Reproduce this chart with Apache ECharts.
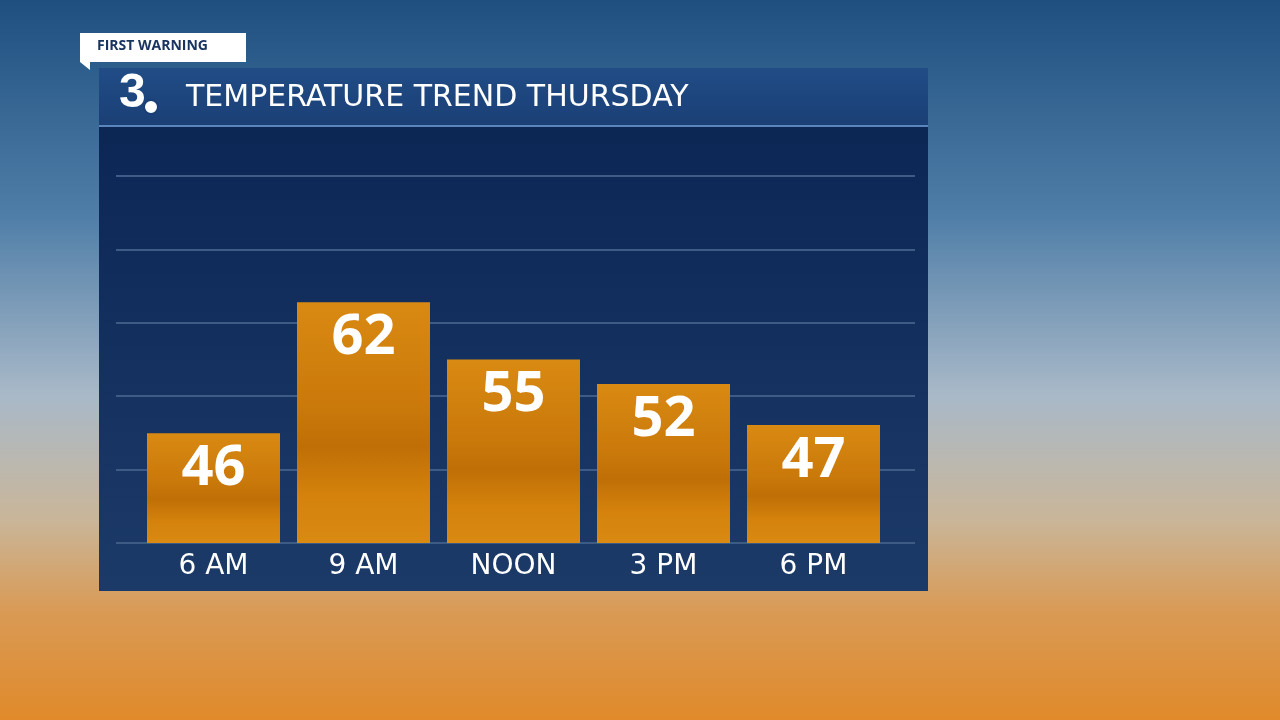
<!DOCTYPE html>
<html><head><meta charset="utf-8">
<script src="https://cdn.jsdelivr.net/npm/echarts@6/dist/echarts.min.js"></script>
<style>html,body{margin:0;padding:0;width:1280px;height:720px;overflow:hidden}#c{width:1280px;height:720px}</style>
</head><body><div id="c"></div>
<script>
const categories = ['6 AM','9 AM','NOON','3 PM','6 PM'];
const temps = [46,62,55,52,47];
const title = 'TEMPERATURE TREND THURSDAY';
const tag = 'FIRST WARNING';

const chart = echarts.init(document.getElementById('c'));
const barColor = new echarts.graphic.LinearGradient(0,0,0,1,[
  {offset:0,color:'#d98a12'},{offset:0.45,color:'#c9780a'},{offset:0.6,color:'#bf6f06'},{offset:0.8,color:'#d4820c'},{offset:1,color:'#d98a12'}]);
chart.setOption({
  animation:false,
  graphic:[
    {type:'rect',z:-10,shape:{x:0,y:0,width:1280,height:720},style:{fill:new echarts.graphic.LinearGradient(0,0,0,1,[
      {offset:0,color:'#1f4f7f'},{offset:0.3,color:'#4f7ea8'},{offset:0.55,color:'#a9b9c8'},{offset:0.72,color:'#c9b69a'},{offset:0.85,color:'#d99a55'},{offset:1,color:'#e08a2a'}])}},
    {type:'rect',z:-9,shape:{x:99,y:68,width:829,height:523},style:{fill:new echarts.graphic.LinearGradient(0,0,0,1,[
      {offset:0,color:'#0a2452'},{offset:1,color:'#1c3a68'}])}},
    {type:'rect',z:-8,shape:{x:99,y:68,width:829,height:59},style:{fill:new echarts.graphic.LinearGradient(0,0,0,1,[
      {offset:0,color:'#214c86'},{offset:1,color:'#1a3f75'}])}},
    {type:'rect',z:-7,shape:{x:99,y:125,width:829,height:2},style:{fill:'#5a86bd'}},
    {type:'text',left:186,top:83,style:{text:title,fill:'#ffffff',font:'30px "DejaVu Sans", sans-serif'}},
    {type:'text',left:119,top:70,style:{text:'3',fill:'#ffffff',font:'900 48px "Liberation Sans", sans-serif'}},
    {type:'circle',shape:{cx:151,cy:107,r:7},style:{fill:'#ffffff',stroke:'#1a3f75',lineWidth:2}},
    {type:'polygon',shape:{points:[[80,33],[246,33],[246,62],[90,62],[90,70],[80,62]]},style:{fill:'#ffffff'}},
    {type:'text',left:97,top:39,style:{text:tag,fill:'#1a3460',font:'bold 14px "Open Sans", sans-serif'}}
  ],
  grid:[
    {left:138.5,right:391.5,top:176,bottom:177},
    {left:116,right:365,top:176,bottom:177}
  ],
  xAxis:[
    {type:'category',gridIndex:0,data:categories,axisLine:{show:false},axisTick:{show:false},
     axisLabel:{color:'#ffffff',fontSize:28,fontFamily:'"DejaVu Sans", sans-serif',margin:10}},
    {type:'value',gridIndex:1,show:false,min:0,max:1}
  ],
  yAxis:[
    {type:'value',gridIndex:0,min:32.6,max:77.4,show:false,splitLine:{show:false}},
    {type:'value',gridIndex:1,min:0,max:5,interval:1,axisLabel:{show:false},axisLine:{show:false},axisTick:{show:false},
     splitLine:{lineStyle:{color:'#3d5b85',width:2}}}
  ],
  series:[{type:'bar',data:temps,barWidth:133,itemStyle:{color:barColor},z:5,
    label:{show:true,position:'insideTop',distance:8,color:'#ffffff',fontSize:56,fontWeight:'bold',fontFamily:'"Open Sans", sans-serif'}}]
});
</script></body></html>
